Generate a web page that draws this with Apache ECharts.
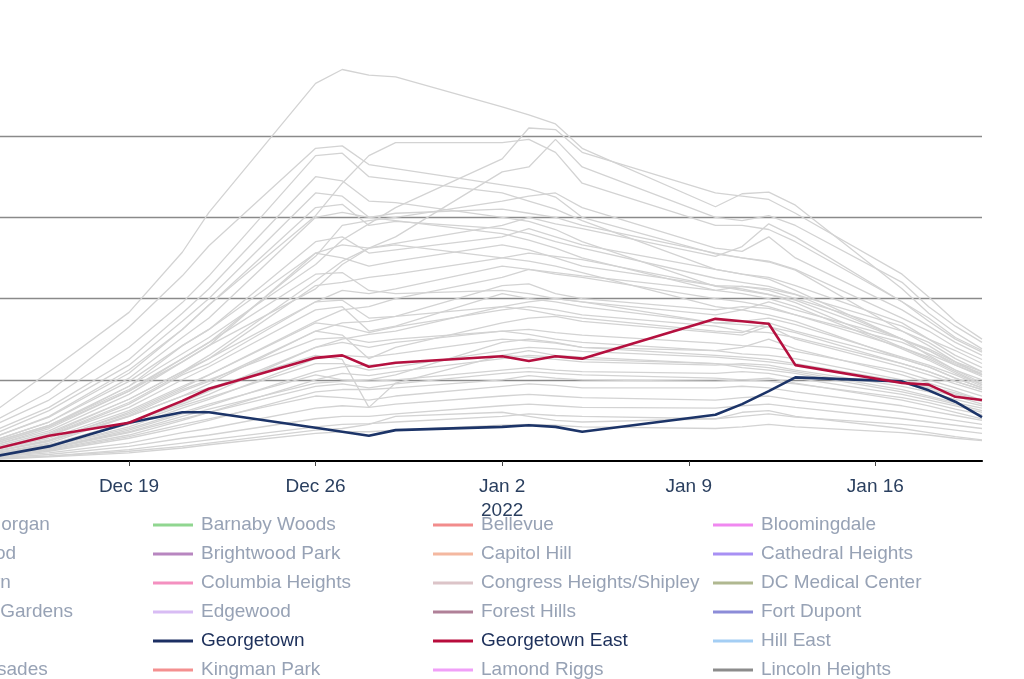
<!DOCTYPE html>
<html>
<head>
<meta charset="utf-8">
<script src="https://cdn.jsdelivr.net/npm/echarts@6/dist/echarts.min.js"></script>
<style>
html,body{margin:0;padding:0;background:#fff;}
#chart{width:1024px;height:679px;}
</style>
</head>
<body>
<div id="chart"></div>
<script>
// ---------- data ----------
var dates = ['2021-12-14','2021-12-16','2021-12-19','2021-12-21','2021-12-22','2021-12-26','2021-12-27',
  '2021-12-28','2021-12-29','2022-01-02','2022-01-03','2022-01-04','2022-01-05','2022-01-10',
  '2022-01-11','2022-01-12','2022-01-13','2022-01-17','2022-01-18','2022-01-19','2022-01-20'];

var tickDates = ['2021-12-19','2021-12-26','2022-01-02','2022-01-09','2022-01-16'];
var tickLabels = ['Dec 19','Dec 26','Jan 2\n2022','Jan 9','Jan 16'];

var georgetown     = [6, 18, 47, 60, 60, 41, 36, 31, 38, 42, 44, 42, 36, 57, 70, 86, 103, 98, 87, 73, 54];
var georgetownEast = [15, 31, 47, 74, 89, 127, 130, 116, 121, 129, 123, 129, 126, 175, 172, 169, 118, 96, 94, 79, 75];

var legendNames = ['Adams Morgan','Barnaby Woods','Bellevue','Bloomingdale',
  'Brightwood','Brightwood Park','Capitol Hill','Cathedral Heights',
  'Chinatown','Columbia Heights','Congress Heights/Shipley','DC Medical Center',
  'Eastland Gardens','Edgewood','Forest Hills','Fort Dupont',
  'GWU','Georgetown','Georgetown East','Hill East',
  'Kent/Palisades','Kingman Park','Lamond Riggs','Lincoln Heights',
  'Logan Circle/Shaw','Marshall Heights','Michigan Park','Mount Pleasant',
  'Naval Station & Air Force','Navy Yard','Petworth','Saint Elizabeths',
  'Shepherd Park','Southwest','Spring Valley','Stronghold',
  'Takoma','Tenleytown','Trinidad','Twining',
  'U St/Pleasant Plains','Union Station','Washington Highlands','Woodridge'];

var legendColors = ['#f4b090','#90d690','#f28c8c','#f088f0',
  '#90b8d8','#b886c0','#f4b8a0','#a890f4',
  '#c8c890','#f490c0','#dcc4c8','#b0b890',
  '#88c8c0','#d8bcf4','#b08098','#8c8cd8',
  '#f0c080','#1c2f63','#b80c3c','#a4cef4',
  '#c0a0d0','#f49090','#f0a0f8','#8c8c8c',
  '#90d0a0','#e0a090','#a0a0e0','#d0b080',
  '#80c0e0','#e090b0','#b0d080','#c090c0',
  '#90a0c0','#e0c0a0','#a0d0d0','#d0a0a0',
  '#b0b0e0','#c0d0a0','#e0b0d0','#a0c0b0',
  '#d0c0e0','#c0a080','#90b0a0','#e0a0c0'];

var otherValues = [
  [62, 110, 183, 257, 306, 465, 482, 475, 473, 436, 426, 415, 385, 313, 329, 331, 315, 212, 182, 158, 138],
  [50, 85, 165, 228, 265, 385, 388, 365, 360, 340, 335, 325, 300, 255, 250, 245, 235, 160, 142, 122, 106],
  [45, 75, 140, 195, 228, 376, 379, 350, 346, 330, 320, 310, 296, 236, 230, 224, 210, 150, 130, 112, 96],
  [30, 55, 112, 162, 192, 302, 342, 376, 392, 392, 396, 380, 342, 290, 290, 285, 270, 196, 176, 152, 136],
  [24, 44, 92, 132, 152, 242, 272, 292, 312, 372, 410, 408, 380, 330, 326, 322, 305, 230, 202, 172, 150],
  [22, 42, 86, 122, 142, 212, 242, 262, 276, 356, 362, 396, 362, 300, 296, 302, 290, 220, 190, 166, 146],
  [38, 66, 125, 182, 212, 350, 345, 320, 318, 300, 295, 285, 270, 215, 212, 205, 195, 140, 126, 110, 94],
  [26, 48, 102, 152, 176, 300, 306, 300, 305, 310, 305, 300, 290, 256, 250, 246, 236, 176, 160, 140, 125],
  [20, 40, 86, 126, 146, 252, 290, 296, 300, 320, 326, 330, 312, 262, 258, 276, 250, 186, 166, 146, 130],
  [30, 54, 108, 162, 192, 312, 316, 290, 295, 286, 280, 270, 262, 225, 220, 215, 205, 150, 136, 118, 104],
  [16, 33, 76, 110, 130, 222, 246, 262, 268, 290, 300, 292, 286, 252, 264, 292, 276, 196, 172, 150, 134],
  [22, 42, 92, 142, 162, 270, 276, 256, 260, 276, 286, 276, 266, 236, 230, 226, 216, 170, 150, 130, 115],
  [20, 37, 82, 122, 142, 256, 250, 240, 246, 266, 260, 250, 240, 216, 215, 210, 200, 160, 146, 126, 110],
  [16, 31, 70, 106, 120, 196, 210, 206, 212, 240, 236, 230, 226, 200, 196, 190, 180, 140, 128, 112, 100],
  [24, 44, 88, 126, 146, 230, 232, 210, 206, 210, 206, 200, 196, 170, 168, 165, 158, 120, 110, 98, 88],
  [12, 25, 60, 90, 106, 172, 186, 190, 200, 226, 236, 232, 228, 210, 215, 212, 205, 166, 150, 136, 120],
  [16, 31, 66, 100, 116, 186, 190, 160, 166, 206, 200, 196, 190, 170, 172, 176, 168, 128, 118, 106, 92],
  [10, 22, 55, 80, 95, 160, 170, 172, 178, 216, 218, 206, 200, 186, 190, 188, 180, 146, 132, 118, 106],
  [18, 35, 76, 110, 126, 196, 198, 176, 178, 190, 186, 180, 176, 160, 158, 170, 160, 126, 116, 102, 90],
  [14, 28, 62, 92, 106, 170, 166, 158, 165, 186, 190, 186, 180, 166, 160, 158, 152, 120, 110, 98, 88],
  [12, 24, 56, 86, 98, 160, 155, 126, 140, 170, 176, 178, 172, 158, 155, 166, 150, 116, 106, 95, 85],
  [10, 20, 48, 72, 86, 140, 146, 140, 146, 160, 162, 158, 155, 145, 142, 140, 135, 110, 100, 90, 80],
  [12, 25, 55, 80, 90, 130, 125, 66, 96, 130, 136, 130, 128, 120, 118, 115, 110, 88, 80, 72, 65],
  [8, 18, 42, 65, 76, 126, 130, 128, 132, 150, 148, 145, 140, 136, 140, 150, 138, 106, 96, 86, 75],
  [10, 20, 45, 68, 78, 120, 120, 112, 116, 136, 140, 138, 135, 128, 125, 122, 118, 96, 88, 80, 70],
  [8, 16, 38, 58, 68, 110, 116, 118, 120, 130, 128, 125, 122, 118, 120, 118, 112, 92, 85, 76, 68],
  [6, 14, 32, 50, 60, 100, 108, 105, 110, 126, 130, 128, 125, 120, 115, 112, 108, 85, 78, 70, 62],
  [9, 18, 40, 60, 70, 106, 100, 98, 100, 112, 115, 112, 110, 108, 110, 108, 102, 82, 75, 68, 60],
  [7, 15, 35, 52, 60, 92, 95, 90, 95, 108, 110, 108, 106, 102, 100, 98, 95, 78, 72, 64, 57],
  [5, 12, 28, 42, 50, 85, 88, 88, 90, 100, 105, 102, 100, 98, 100, 102, 96, 75, 68, 60, 52],
  [6, 13, 30, 45, 52, 80, 78, 75, 80, 92, 95, 93, 90, 90, 92, 90, 85, 68, 62, 56, 50],
  [5, 10, 22, 35, 40, 65, 68, 66, 70, 80, 82, 80, 78, 75, 78, 80, 75, 60, 55, 50, 45],
  [4, 8, 18, 28, 32, 52, 55, 55, 58, 68, 70, 68, 66, 65, 68, 70, 66, 52, 48, 44, 40],
  [3, 6, 14, 22, 26, 42, 45, 46, 48, 55, 58, 56, 55, 52, 55, 58, 54, 45, 42, 38, 34],
  [2, 5, 10, 16, 20, 34, 36, 36, 38, 44, 45, 44, 42, 40, 42, 45, 42, 35, 32, 28, 25],
  [3, 6, 12, 18, 22, 38, 40, 45, 55, 60, 55, 50, 48, 52, 60, 62, 55, 40, 35, 30, 26],
  [16, 32, 72, 108, 126, 216, 220, 226, 230, 250, 256, 252, 248, 216, 210, 205, 198, 150, 138, 122, 110],
  [26, 48, 98, 142, 162, 256, 266, 262, 266, 250, 246, 240, 232, 190, 186, 180, 172, 126, 116, 102, 90],
  [10, 20, 48, 70, 82, 140, 150, 156, 160, 190, 196, 200, 196, 180, 186, 196, 186, 150, 136, 120, 108],
  [12, 26, 58, 88, 100, 150, 152, 146, 150, 160, 156, 150, 146, 136, 132, 130, 126, 100, 92, 84, 75],
  [8, 16, 36, 55, 64, 96, 98, 100, 106, 146, 150, 146, 140, 130, 128, 125, 120, 98, 90, 82, 73],
  [34, 62, 118, 172, 200, 330, 326, 300, 296, 280, 272, 262, 250, 210, 206, 200, 190, 138, 124, 108, 94]
];

// ---------- build ----------
var DAY = 86400000;
var ref = Date.parse('2021-12-19');
function dayOf(s){ return (Date.parse(s) - ref) / DAY; }
var xs = dates.map(dayOf);
var tickDays = tickDates.map(dayOf);
function toData(vals){ return vals.map(function(v,i){ return [xs[i], v]; }); }

var highlight = { 'Georgetown': {vals: georgetown, color: '#1c3468'},
                  'Georgetown East': {vals: georgetownEast, color: '#b5103f'} };

var series = [];
var k = 0;
legendNames.forEach(function(name){
  if (highlight[name]) return;
  series.push({ name: name, type: 'line', symbol: 'none', silent: true,
    data: toData(otherValues[k++]), lineStyle: {color: '#d3d3d3', width: 1.3},
    itemStyle: {color: '#d3d3d3'}, z: 2 });
});
['Georgetown','Georgetown East'].forEach(function(name){
  series.push({ name: name, type: 'line', symbol: 'none', silent: true,
    data: toData(highlight[name].vals), lineStyle: {color: highlight[name].color, width: 2.6},
    itemStyle: {color: highlight[name].color}, z: 5 });
});

var colLeft = [-127, 153, 433, 713];
var legends = colLeft.map(function(left, c){
  var items = [];
  legendNames.forEach(function(name, i){
    if (i % 4 !== c) return;
    var isHi = !!highlight[name];
    items.push({ name: name, icon: 'rect',
      itemStyle: {color: legendColors[i], borderWidth: 0},
      textStyle: {color: isHi ? '#1c2f5a' : '#97a2b5'} });
  });
  return { type: 'plain', orient: 'vertical', left: left, top: 515, width: 280, height: 2000, padding: 0,
    itemWidth: 40, itemHeight: 3, itemGap: 9, selectedMode: false,
    textStyle: {fontSize: 19, fontFamily: 'Liberation Sans, Arial, sans-serif', lineHeight: 20, padding: [0,0,0,3]},
    data: items };
});

var chart = echarts.init(document.getElementById('chart'), null, {renderer: 'canvas'});
chart.setOption({
  animation: false,
  backgroundColor: '#ffffff',
  grid: { left: 0, right: 42, top: 63, bottom: 218 },
  legend: legends,
  xAxis: {
    type: 'value',
    min: dayOf('2021-12-14') + 0.161,
    max: dayOf('2022-01-20'),
    axisLine: { show: true, onZero: false, lineStyle: {color: '#000', width: 2.2} },
    axisTick: { show: true, customValues: tickDays, length: 5, lineStyle: {color: '#444', width: 1} },
    splitLine: { show: false },
    axisLabel: {
      customValues: tickDays, margin: 14,
      color: '#2a3f5f', fontSize: 19, lineHeight: 24,
      fontFamily: 'Liberation Sans, Arial, sans-serif',
      formatter: function(v){
        for (var i = 0; i < tickDays.length; i++) { if (Math.abs(tickDays[i] - v) < 1e-6) return tickLabels[i]; }
        return '';
      }
    }
  },
  yAxis: {
    type: 'value', min: 0, max: 490, interval: 100,
    axisLine: { show: false }, axisTick: { show: false },
    axisLabel: { show: false },
    splitLine: { show: true, showMinLine: false, showMaxLine: false, lineStyle: {color: '#8a8a8a', width: 1.3} }
  },
  series: series
});
</script>
</body>
</html>
